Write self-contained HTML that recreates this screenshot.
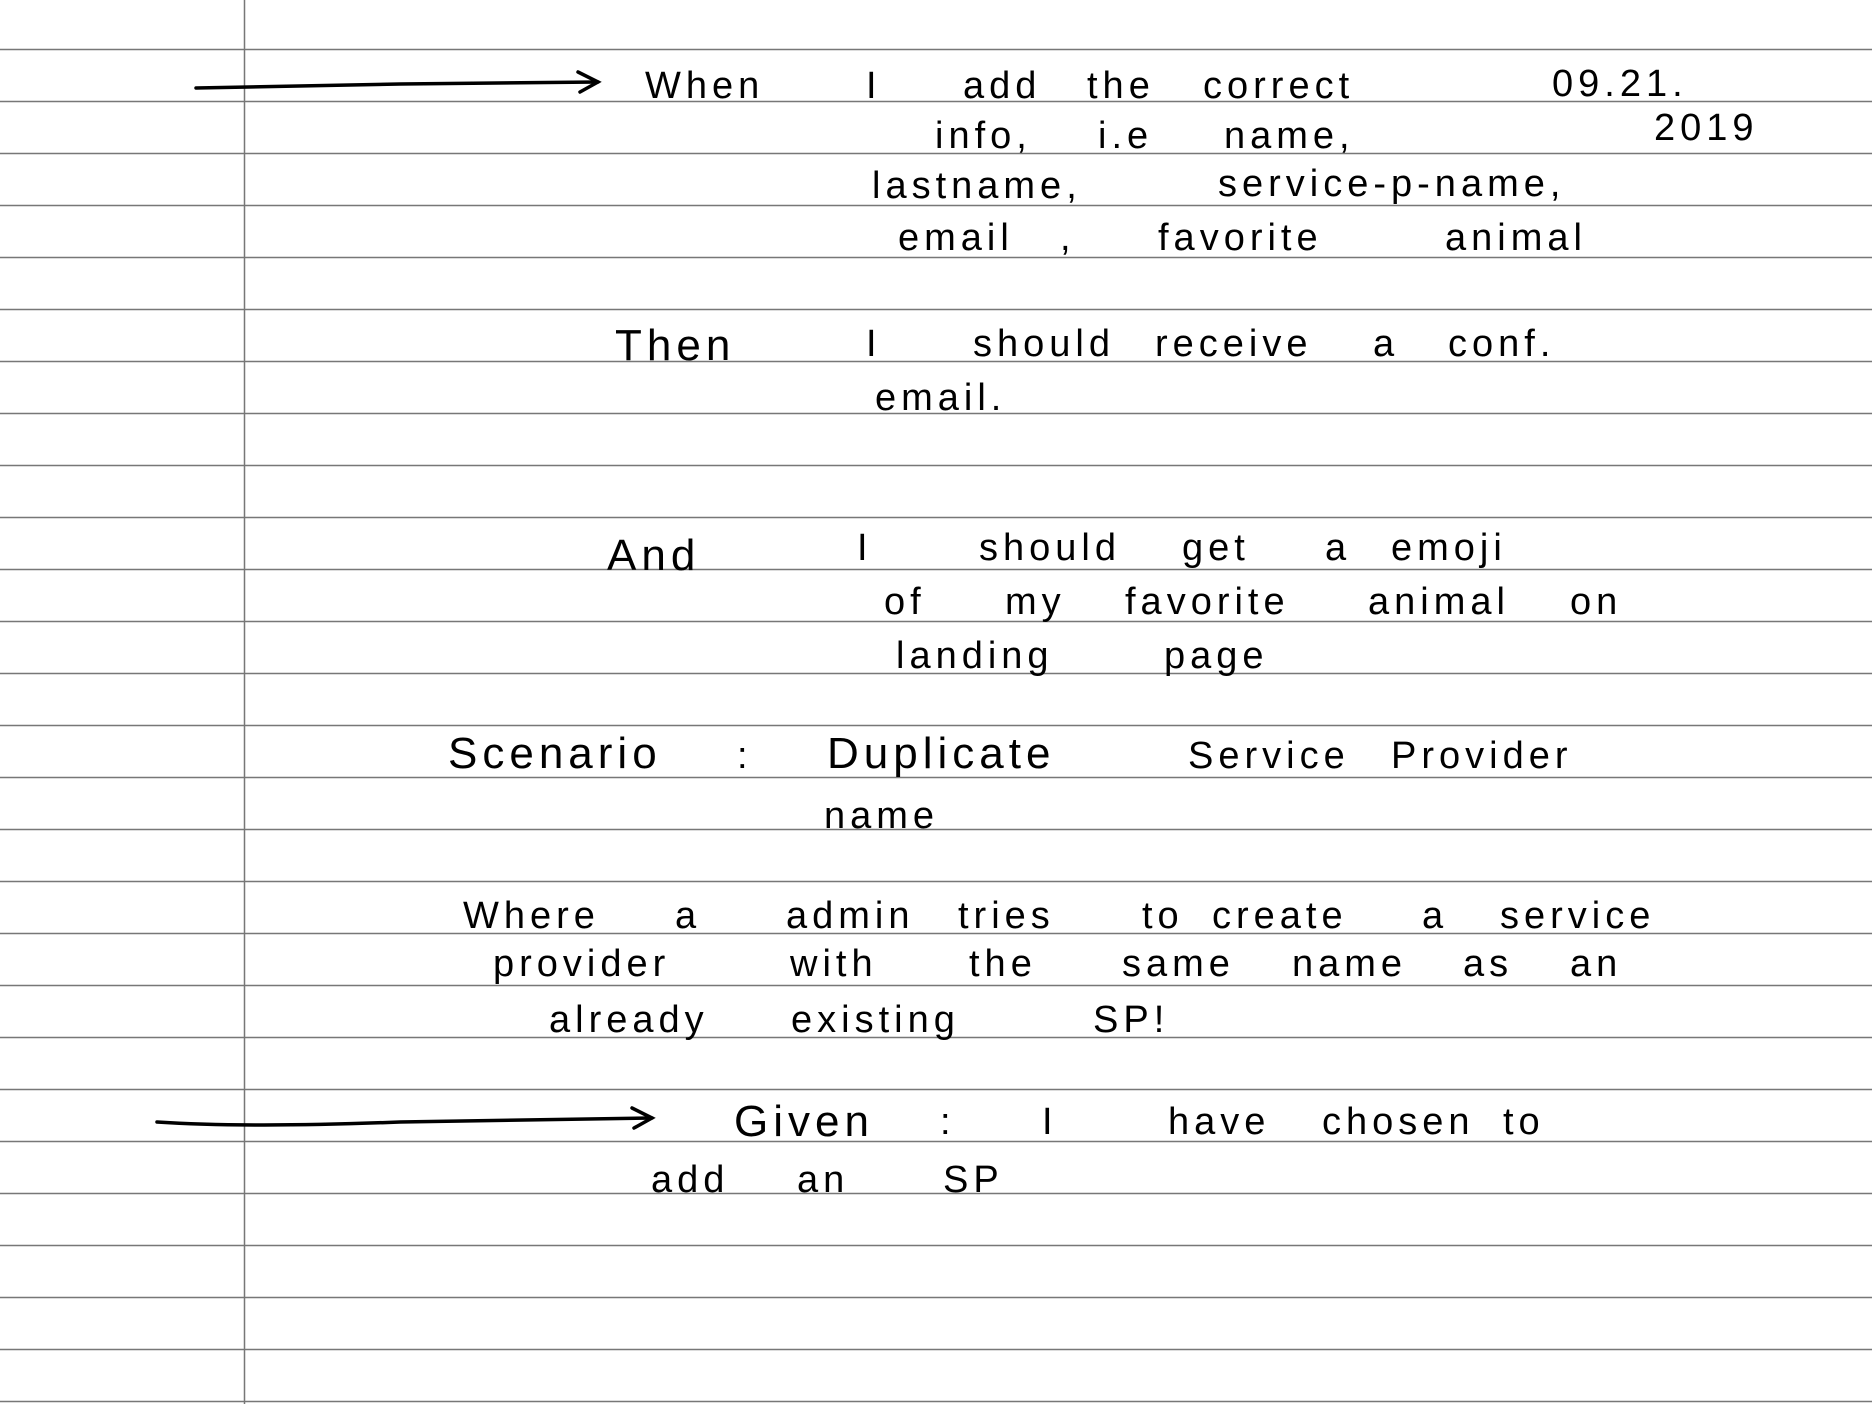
<!DOCTYPE html>
<html><head><meta charset="utf-8"><style>
html,body{margin:0;padding:0;background:#fff;}
svg{display:block;}
text{font-family:"Liberation Sans",sans-serif;font-size:38px;letter-spacing:5px;fill:#000;}
.b{font-size:44px;}
</style></head><body>
<svg width="1872" height="1404" viewBox="0 0 1872 1404" xmlns="http://www.w3.org/2000/svg">
<g stroke="#777" stroke-width="1.5">
<line x1="0" y1="49.5" x2="1872" y2="49.5"/><line x1="0" y1="101.5" x2="1872" y2="101.5"/><line x1="0" y1="153.5" x2="1872" y2="153.5"/><line x1="0" y1="205.5" x2="1872" y2="205.5"/><line x1="0" y1="257.5" x2="1872" y2="257.5"/><line x1="0" y1="309.5" x2="1872" y2="309.5"/><line x1="0" y1="361.5" x2="1872" y2="361.5"/><line x1="0" y1="413.5" x2="1872" y2="413.5"/><line x1="0" y1="465.5" x2="1872" y2="465.5"/><line x1="0" y1="517.5" x2="1872" y2="517.5"/><line x1="0" y1="569.5" x2="1872" y2="569.5"/><line x1="0" y1="621.5" x2="1872" y2="621.5"/><line x1="0" y1="673.5" x2="1872" y2="673.5"/><line x1="0" y1="725.5" x2="1872" y2="725.5"/><line x1="0" y1="777.5" x2="1872" y2="777.5"/><line x1="0" y1="829.5" x2="1872" y2="829.5"/><line x1="0" y1="881.5" x2="1872" y2="881.5"/><line x1="0" y1="933.5" x2="1872" y2="933.5"/><line x1="0" y1="985.5" x2="1872" y2="985.5"/><line x1="0" y1="1037.5" x2="1872" y2="1037.5"/><line x1="0" y1="1089.5" x2="1872" y2="1089.5"/><line x1="0" y1="1141.5" x2="1872" y2="1141.5"/><line x1="0" y1="1193.5" x2="1872" y2="1193.5"/><line x1="0" y1="1245.5" x2="1872" y2="1245.5"/><line x1="0" y1="1297.5" x2="1872" y2="1297.5"/><line x1="0" y1="1349.5" x2="1872" y2="1349.5"/><line x1="0" y1="1401.5" x2="1872" y2="1401.5"/>
<line x1="244.5" y1="0" x2="244.5" y2="1404"/>
</g>
<g stroke="#000" stroke-width="3.5" fill="none" stroke-linecap="round">
<path d="M196 88 Q300 86 400 84 L598 82"/><path d="M578 72 L598 82 L580 92"/>
<path d="M157 1122 Q250 1128 400 1122 L652 1118"/><path d="M632 1108 L652 1118 L634 1128"/>
</g>
<text x="645" y="98">When</text><text x="866" y="98">I</text><text x="963" y="98">add</text><text x="1087" y="98">the</text><text x="1203" y="98">correct</text><text x="1552" y="96">09.21.</text>
<text x="935" y="148">info,</text><text x="1098" y="148">i.e</text><text x="1224" y="148">name,</text><text x="1654" y="140">2019</text>
<text x="872" y="198">lastname,</text><text x="1218" y="196">service-p-name,</text>
<text x="898" y="250">email</text><text x="1060" y="250">,</text><text x="1158" y="250">favorite</text><text x="1445" y="250">animal</text>
<text class="b" x="615" y="360">Then</text><text x="866" y="356">I</text><text x="973" y="356">should</text><text x="1155" y="356">receive</text><text x="1373" y="356">a</text><text x="1448" y="356">conf.</text>
<text x="875" y="410">email.</text>
<text class="b" x="607" y="570">And</text><text x="857" y="560">I</text><text x="979" y="560">should</text><text x="1182" y="560">get</text><text x="1325" y="560">a</text><text x="1391" y="560">emoji</text>
<text x="884" y="614">of</text><text x="1005" y="614">my</text><text x="1125" y="614">favorite</text><text x="1368" y="614">animal</text><text x="1570" y="614">on</text>
<text x="896" y="668">landing</text><text x="1164" y="668">page</text>
<text class="b" x="448" y="768">Scenario</text><text x="737" y="768">:</text><text class="b" x="827" y="768">Duplicate</text><text x="1188" y="768">Service</text><text x="1391" y="768">Provider</text>
<text x="824" y="828">name</text>
<text x="463" y="928">Where</text><text x="675" y="928">a</text><text x="786" y="928">admin</text><text x="958" y="928">tries</text><text x="1142" y="928">to</text><text x="1212" y="928">create</text><text x="1422" y="928">a</text><text x="1500" y="928">service</text>
<text x="493" y="976">provider</text><text x="790" y="976">with</text><text x="969" y="976">the</text><text x="1122" y="976">same</text><text x="1292" y="976">name</text><text x="1463" y="976">as</text><text x="1570" y="976">an</text>
<text x="549" y="1032">already</text><text x="791" y="1032">existing</text><text x="1093" y="1032">SP!</text>
<text class="b" x="734" y="1136">Given</text><text x="940" y="1134">:</text><text x="1042" y="1134">I</text><text x="1168" y="1134">have</text><text x="1322" y="1134">chosen</text><text x="1503" y="1134">to</text>
<text x="651" y="1192">add</text><text x="797" y="1192">an</text><text x="943" y="1192">SP</text>
</svg>
</body></html>
